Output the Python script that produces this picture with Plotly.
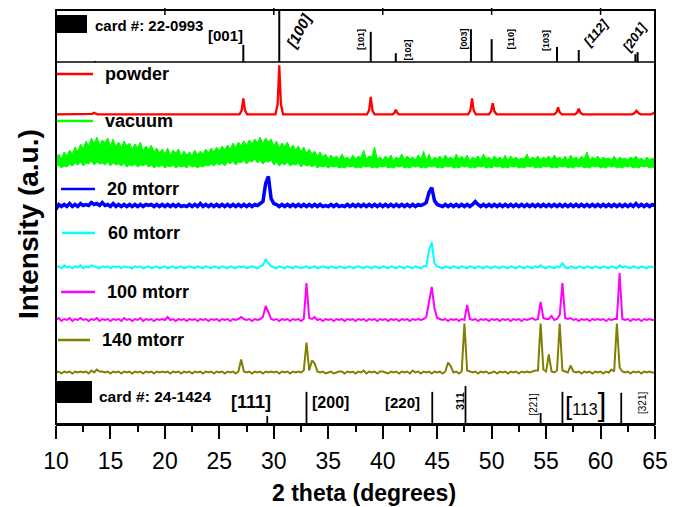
import numpy as np
import plotly.graph_objects as go

# ---------------- data ----------------
two_theta = np.round(np.arange(10.0, 65.0001, 0.25), 2)   # scan grid, degrees

sample_names = ["powder", "vacuum", "20 mtorr", "60 mtorr", "100 mtorr", "140 mtorr"]

powder_x = [10, 13.2, 13.35, 13.5, 13.65, 13.8,
            26.85, 27.05, 27.2, 27.35, 27.55,
            30.15, 30.35, 30.5, 30.65, 30.85,
            38.55, 38.75, 38.9, 39.05, 39.25,
            40.9, 41.05, 41.2, 41.35, 41.5,
            47.85, 48.05, 48.2, 48.35, 48.55,
            49.75, 49.95, 50.1, 50.25, 50.45,
            55.75, 55.95, 56.1, 56.25, 56.45,
            57.65, 57.85, 58.0, 58.15, 58.35,
            62.9, 63.1, 63.3, 63.5, 63.7,
            64.6, 64.85, 65]
powder_y = [0, 0, 0.5, 1.5, 0.5, 0,
            0, 4, 16, 4, 0,
            0, 10, 49, 10, 0,
            0, 4, 17.5, 4, 0,
            0, 1, 4.5, 1, 0,
            0, 4, 16, 4, 0,
            0, 3, 11, 3, 0,
            0, 2, 7, 2, 0,
            0, 1.5, 5.5, 1.5, 0,
            0, 1, 3.5, 1, 0,
            0, 1, 2.5]

# vacuum scan is very noisy: read as upper and lower edge of the noise band
vacuum_top = [10, 14, 9, 16, 12, 18, 14, 21, 16, 24, 19, 27, 22, 30, 24, 31, 23, 28, 25, 30,
              22, 29, 21, 26, 20, 27, 22, 25, 19, 24, 20, 26, 17, 22, 18, 23, 16, 20, 15, 19,
              14, 20, 13, 18, 15, 19, 12, 17, 13, 16, 12, 18, 13, 17, 14, 19, 15, 20, 16, 21,
              17, 22, 18, 23, 19, 25, 20, 26, 22, 27, 23, 28, 24, 29, 25, 31, 24, 30, 26, 29,
              22, 27, 20, 25, 21, 26, 19, 23, 18, 22, 16, 21, 15, 19, 14, 17, 12, 16, 11, 14,
              9, 13, 10, 12, 8, 14, 9, 11, 8, 13, 9, 12, 10, 18, 9, 12, 11, 21, 9, 11,
              8, 12, 9, 13, 7, 11, 9, 14, 8, 12, 9, 11, 8, 13, 9, 17, 8, 14, 7, 11,
              9, 12, 8, 13, 9, 11, 8, 14, 9, 12, 8, 13, 7, 11, 9, 12, 8, 14, 9, 11,
              8, 12, 9, 11, 8, 13, 7, 12, 9, 11, 8, 10, 9, 14, 8, 11, 9, 12, 8, 11,
              9, 12, 8, 13, 9, 11, 8, 12, 7, 13, 9, 11, 8, 12, 9, 16, 8, 11, 9, 12,
              8, 11, 9, 10, 8, 12, 7, 11, 9, 10, 8, 11, 9, 12, 8, 10, 7, 11, 8, 10,
              9]
vacuum_bottom = [1, 3, 0, 2, 1, 4, 2, 5, 3, 6, 2, 5, 4, 7, 3, 6, 4, 5, 3, 6,
                 2, 5, 3, 4, 2, 5, 1, 3, 2, 4, 1, 3, 2, 4, 1, 3, 0, 2, 1, 3,
                 0, 2, 1, 3, 0, 2, 1, 2, 0, 3, 1, 2, 0, 2, 1, 3, 2, 4, 2, 5,
                 3, 5, 2, 6, 4, 7, 3, 6, 5, 8, 4, 7, 6, 9, 5, 8, 4, 7, 6, 8,
                 3, 6, 2, 5, 3, 6, 2, 4, 3, 5, 1, 4, 2, 3, 1, 3, 0, 2, 1, 2,
                 0, 2, 1, 2, 0, 1, 0, 2, 1, 2, 0, 1, 0, 2, 1, 2, 0, 1, 0, 2,
                 1, 2, 0, 1, 0, 2, 1, 2, 0, 1, 0, 2, 1, 2, 0, 1, 0, 2, 1, 2,
                 0, 1, 0, 2, 1, 2, 0, 1, 0, 2, 1, 2, 0, 1, 0, 2, 1, 2, 0, 1,
                 0, 2, 1, 2, 0, 1, 0, 2, 1, 2, 0, 1, 0, 2, 1, 2, 0, 1, 0, 2,
                 1, 2, 0, 1, 0, 2, 1, 2, 0, 1, 0, 2, 1, 2, 0, 1, 0, 2, 1, 2,
                 0, 1, 0, 2, 1, 2, 0, 1, 0, 2, 1, 2, 0, 1, 0, 2, 1, 2, 0, 1,
                 0]

mtorr20_y = [-4, 1, -1, 1, -1, 2, -1, 1, -1, 2, 0, 1, 0, 3, 1, 2, 0, 3, 0, 1,
             -1, 2, -1, 1, -1, 1, -1, 1, -1, 1, -1, 1, -1, 1, 0, 1, -1, 1, -1, 1,
             -1, 1, -1, 1, -1, 1, -1, 0, -1, 1, -1, 1, -1, 2, -1, 1, -1, 1, -1, 1,
             -1, 1, -1, 1, -1, 1, -1, 1, -1, 1, -1, 1, -1, 1, 0, 2, 4, 22, 29, 7,
             2, 1, -1, 1, -1, 1, -1, 1, -1, 1, -1, 1, -1, 1, -1, 1, -1, 1, -1, 0,
             -1, 1, -1, 1, -1, 0, -1, 1, -1, 1, -1, 1, -1, 1, -1, 1, -1, 1, -1, 1,
             -1, 1, -1, 1, -1, 1, -1, 1, -1, 1, -1, 1, -1, 1, 0, 1, 3, 13, 18, 5,
             1, 0, -1, 1, -1, 1, -1, 1, -1, 1, -1, 1, -1, 1, 4, 1, -1, 1, -1, 1,
             -1, 1, -1, 1, -1, 1, -1, 1, -1, 1, -1, 1, -1, 1, -1, 1, -1, 1, -1, 1,
             -1, 1, -1, 1, -1, 1, -1, 1, -1, 1, -1, 1, -1, 1, -1, 1, -1, 1, -1, 1,
             -1, 1, -1, 1, -1, 1, -1, 1, -1, 1, -1, 1, -1, 2, -1, 1, -1, 1, -1, 1,
             0]

mtorr60_y = [0, 1, -1, 2, 0, 1, -1, 1, 0, 2, -1, 1, 0, 2, 1, 0, -1, 1, 0, 1,
             -1, 1, 0, 1, -1, 1, 0, 0, -1, 1, 0, 1, -1, 0, 1, -1, 0, 1, -1, 0,
             1, -1, 0, 1, -1, 0, 1, -1, 0, 1, 0, -1, 1, 0, -1, 1, 0, -1, 1, 0,
             -1, 1, 0, -1, 1, 0, -1, 1, 0, 1, -1, 0, 1, 0, -1, 1, 2, 8, 5, 1,
             0, -1, 1, 0, -1, 1, 0, -1, 1, 0, -1, 0, 1, -1, 0, 1, -1, 0, 1, 0,
             -1, 1, 0, -1, 1, 0, -1, 0, 1, -1, 0, 1, 0, -1, 1, 0, -1, 1, 0, -1,
             1, 0, -1, 1, 0, -1, 1, 0, -1, 1, 0, -1, 1, 0, -1, 1, 1, 17, 25, 4,
             1, 0, -1, 1, 0, -1, 1, 0, -1, 1, 0, -1, 1, 0, -1, 1, 0, -1, 1, 0,
             -1, 1, 0, -1, 1, 0, -1, 1, 0, -1, 1, 0, -1, 1, 0, -1, 1, 0, 2, 0,
             -1, 1, 0, -1, 1, 0, 4, 0, -1, 1, 0, -1, 1, 0, -1, 1, 0, -1, 1, 0,
             -1, 1, 0, -1, 1, 0, -1, 2, 0, 1, 0, -1, 1, 0, -1, 1, 0, -1, 1, 0,
             0]

mtorr100_y = [0, 2, -1, 1, 0, 2, -1, 1, 0, 2, 0, 1, -1, 1, 0, 2, -1, 1, 0, 1,
              -1, 1, 0, 1, -1, 2, 0, 1, -1, 1, 0, 2, -1, 1, 0, 1, -1, 1, 0, 1,
              0, 3, 0, 1, -1, 1, 0, 1, -1, 1, 0, 1, -1, 1, 0, 1, -1, 1, 0, 1,
              -1, 1, 0, 1, -1, 1, 0, 1, 3, 1, 0, 1, -1, 1, 0, 1, 3, 14, 8, 1,
              0, 1, -1, 1, 0, 1, -1, 1, 0, 1, -1, 1, 37, 2, 1, 3, 0, 1, -1, 1,
              0, 1, -1, 1, 0, 1, -1, 1, 0, 1, -1, 1, 0, 1, -1, 1, 0, 1, -1, 1,
              0, 1, -1, 1, 0, 1, -1, 1, 0, 1, -1, 1, 0, 1, 0, 1, 3, 20, 33, 12,
              2, 1, 0, 1, -1, 1, 0, 1, -1, 1, 0, 15, 1, 0, 1, -1, 1, 0, 1, -1,
              1, 0, 1, -1, 1, 0, 1, -1, 1, 0, 1, -1, 1, 0, 1, 2, 0, 1, 18, 2,
              1, 1, 4, 0, 1, 5, 37, 2, 1, 2, 0, 1, -1, 1, 0, 1, -1, 1, 0, 1,
              0, 1, -1, 1, 0, 1, 1, 47, 1, 0, 1, -1, 1, 0, 1, -1, 1, 0, 1, 0,
              0]

mtorr140_y = [0, 1, -1, 1, 0, 1, -1, 1, 0, 1, 0, 1, -1, 2, 0, 3, 1, 1, 0, 1,
              -1, 1, 0, 1, -1, 1, 0, 1, -1, 1, 0, 1, -1, 1, 0, 1, -1, 1, 0, 1,
              0, 1, -1, 1, 0, 1, -1, 1, 0, 1, -1, 1, 0, 1, -1, 1, 0, 1, -1, 1,
              0, 1, -1, 1, 0, 1, -1, 1, 13, 1, 0, 1, -1, 1, 0, 1, -1, 1, 0, 1,
              0, 1, -1, 1, 0, 1, -1, 1, 0, 1, 0, 2, 30, 2, 12, 9, 1, 0, 1, -1,
              0, 1, -1, 0, 1, 1, -1, 1, 0, 1, -1, 1, 0, 2, -1, 1, 0, 1, -1, 1,
              1, 0, -1, 1, 0, 1, -1, 1, 0, 1, -1, 2, 0, 1, -1, 1, 0, 1, -1, 1,
              0, 1, -1, 1, 10, 6, 0, 1, -1, 1, 49, 2, 1, 0, 1, -1, 1, 0, 1, -1,
              0, 1, -1, 1, 0, 1, -1, 1, 0, 1, -1, 1, 0, 1, 0, 1, 2, 2, 49, 3,
              1, 18, 1, 0, 2, 49, 2, 1, 0, 7, 1, 0, 1, -1, 1, 0, 1, -1, 1, 0,
              1, -1, 1, 0, 3, 1, 49, 5, 1, 0, 1, -1, 1, 0, 1, -1, 1, 0, 1, 0,
              0]

# reference cards (stick positions in degrees, relative intensity %)
card_top_name = "card #: 22-0993"
card_top_pos = [13.6, 27.2, 30.5, 38.9, 41.2, 48.1, 50.0, 56.0, 58.0, 63.2, 63.4]
card_top_int = [2, 33, 100, 58, 17, 63, 44, 29, 23, 15, 19]
card_top_hkl = ["[001]", "[100]", "[101]", "[102]", "[003]", "[110]", "[103]", "[112]", "[201]"]

card_bot_name = "card #: 24-1424"
card_bot_pos = [29.4, 33.0, 44.55, 47.6, 54.5, 56.5, 61.9]
card_bot_int = [17, 67, 67, 79, 23, 67, 65]
card_bot_hkl = ["[111]", "[200]", "[220]", "311", "[221]", "[113]", "[321]"]

x_ticks = [10, 15, 20, 25, 30, 35, 40, 45, 50, 55, 60, 65]
x_minor_ticks = [12.5, 17.5, 22.5, 27.5, 32.5, 37.5, 42.5, 47.5, 52.5, 57.5, 62.5]
top_ticks = [20, 30, 40, 50, 60]

assert len(two_theta) == 221
for arr in (vacuum_top, vacuum_bottom, mtorr20_y, mtorr60_y, mtorr100_y, mtorr140_y):
    assert len(arr) == 221, len(arr)

# ---------------- styling / layout helpers ----------------
FONT = "Liberation Sans, Arial, sans-serif"
PAGE_OFF = 8                       # default body margin of the html page
W, H = 683 - PAGE_OFF, 507 - PAGE_OFF
PL, PT, PW, PH = 56, 10, 599, 414  # plot area on screen (px)
L, T = PL - PAGE_OFF, PT - PAGE_OFF
R = W - L - PW
B = H - T - PH


def PX(x):
    return (x - PL) / PW


def PY(y):
    return (PT + PH - y) / PH


d_low = PY(376)
d_high = PY(62)

colors = ["#FF0000", "#00FF00", "#0000FF", "#00FFFF", "#FF00FF", "#808000"]
offsets = [261.7, 208, 170.5, 108.7, 56, 3.5]
widths = [2.3, 1, 3.5, 2, 2, 2]

fig = go.Figure()

fig.add_trace(go.Scatter(x=powder_x, y=[v + offsets[0] for v in powder_y], mode="lines",
                         line=dict(color=colors[0], width=widths[0]),
                         xaxis="x", yaxis="y2", hoverinfo="skip"))
fig.add_trace(go.Scatter(x=two_theta, y=[v + offsets[1] for v in vacuum_bottom], mode="lines",
                         line=dict(color=colors[1], width=1), xaxis="x", yaxis="y2", hoverinfo="skip"))
fig.add_trace(go.Scatter(x=two_theta, y=[v + offsets[1] for v in vacuum_top], mode="lines",
                         line=dict(color=colors[1], width=1), fill="tonexty", fillcolor=colors[1],
                         xaxis="x", yaxis="y2", hoverinfo="skip"))
for ys, c, off, w in zip([mtorr20_y, mtorr60_y, mtorr100_y, mtorr140_y], colors[2:], offsets[2:], widths[2:]):
    fig.add_trace(go.Scatter(x=two_theta, y=[v + off for v in ys], mode="lines",
                             line=dict(color=c, width=w), xaxis="x", yaxis="y2", hoverinfo="skip"))


def sticks(pos, inten):
    xs, ys = [], []
    for p, h in zip(pos, inten):
        xs += [p, p, None]
        ys += [0, h, None]
    return xs, ys


sx, sy = sticks(card_top_pos, card_top_int)
fig.add_trace(go.Scatter(x=sx, y=sy, mode="lines", line=dict(color="black", width=2),
                         xaxis="x", yaxis="y3", hoverinfo="skip"))
sx, sy = sticks(card_bot_pos, card_bot_int)
fig.add_trace(go.Scatter(x=sx, y=sy, mode="lines", line=dict(color="black", width=1.8),
                         xaxis="x", yaxis="y", hoverinfo="skip"))
fig.add_trace(go.Scatter(x=top_ticks, y=[100] * len(top_ticks), mode="markers",
                         marker=dict(symbol="line-ns", size=7, line=dict(width=1.5, color="black")),
                         cliponaxis=False, xaxis="x", yaxis="y3", hoverinfo="skip"))

shapes = []
annotations = []

shapes.append(dict(type="rect", xref="paper", yref="paper", x0=0, x1=1, y0=0, y1=1,
                   line=dict(color="black", width=2)))
shapes.append(dict(type="line", xref="paper", yref="paper", x0=0, x1=1, y0=d_high, y1=d_high,
                   line=dict(color="black", width=1.5)))

leg_pos = [(57, 93, 74, 103), (57, 93, 121, 103), (61, 95, 189, 105),
           (62, 95, 233, 106), (61, 95, 292, 105), (58, 90, 340, 100)]
for name, c, (x0, x1, y, tx) in zip(sample_names, colors, leg_pos):
    shapes.append(dict(type="line", xref="paper", yref="paper", x0=PX(x0), x1=PX(x1),
                       y0=PY(y), y1=PY(y), line=dict(color=c, width=2.5)))
    annotations.append(dict(text="<b>%s</b>" % name, x=PX(tx), y=PY(y), xref="paper", yref="paper",
                            xanchor="left", yanchor="middle", showarrow=False,
                            font=dict(family=FONT, size=18, color="black")))

shapes.append(dict(type="rect", xref="paper", yref="paper", x0=PX(57), x1=PX(87), y0=PY(33), y1=PY(15),
                   fillcolor="black", line=dict(width=0)))
shapes.append(dict(type="rect", xref="paper", yref="paper", x0=PX(56), x1=PX(92), y0=PY(403), y1=PY(381),
                   fillcolor="black", line=dict(width=0)))


def label(text, x, y, size, angle=0, anchor="center"):
    annotations.append(dict(text=text, x=PX(x), y=PY(y), xref="paper", yref="paper",
                            xanchor=anchor, yanchor="middle", showarrow=False, textangle=angle,
                            font=dict(family=FONT, size=size, color="black")))


label("<b>%s</b>" % card_top_name, 93, 26, 15, anchor="left")
label("<b>%s</b>" % card_bot_name, 97, 396, 15.5, anchor="left")

top_lbl_style = [(225, 36, 15, 0, "b"), (298, 31, 15, -62, "bi"), (361, 40, 9, -90, "b"),
                 (407.5, 50, 9, -90, "b"), (463.5, 39, 9, -90, "b"), (510.5, 39, 9, -90, "b"),
                 (546, 41, 9, -90, "b"), (595, 33, 13, -50, "bi"), (634.5, 38, 13, -55, "bi")]
for t, (x, y, s, a, st) in zip(card_top_hkl, top_lbl_style):
    txt = t
    if "i" in st:
        txt = "<i>%s</i>" % txt
    if "b" in st:
        txt = "<b>%s</b>" % txt
    label(txt, x, y, s, angle=a)

bot_lbl_style = [(251, 402, 18, 0, "b"), (330, 402, 16, 0, "b"), (402.5, 402, 15, 0, "b"),
                 (460, 401, 11, -90, "b"), (532.5, 405, 10, -90, ""), (585, 404, 16, 0, "big"),
                 (642, 403, 10, -90, "")]
for t, (x, y, s, a, st) in zip(card_bot_hkl, bot_lbl_style):
    if st == "big":
        txt = ('<span style="font-size:26px">[</span>%s<span style="font-size:31px">]</span>'
               % t.strip("[]"))
        label(txt, x, y, s, angle=a)
    elif st == "b":
        label("<b>%s</b>" % t, x, y, s, angle=a)
    else:
        label(t, x, y, s, angle=a)

label("<b>2 theta (degrees)</b>", 364, 493, 23)
label("<b>Intensity (a.u.)</b>", 28, 224, 28, angle=-90)

fig.update_layout(
    width=W, height=H, margin=dict(l=L, r=R, t=T, b=B),
    plot_bgcolor="white", paper_bgcolor="white", showlegend=False,
    xaxis=dict(domain=[0, 1], range=[10, 65], anchor="y", tickvals=x_ticks,
               ticks="outside", ticklen=13, tickwidth=2, tickcolor="black",
               showline=True, linewidth=2, linecolor="black", showgrid=False, zeroline=False,
               tickfont=dict(family=FONT, size=23, color="black"), ticklabelstandoff=2,
               minor=dict(tickvals=x_minor_ticks, ticks="outside", ticklen=6, tickwidth=2,
                          tickcolor="black")),
    yaxis=dict(domain=[0, d_low], range=[0, 100], visible=False),
    yaxis2=dict(domain=[d_low, d_high], range=[0, 314], visible=False),
    yaxis3=dict(domain=[d_high, 1], range=[0, 100], visible=False),
    shapes=shapes, annotations=annotations,
)

fig.write_html("out.html")
